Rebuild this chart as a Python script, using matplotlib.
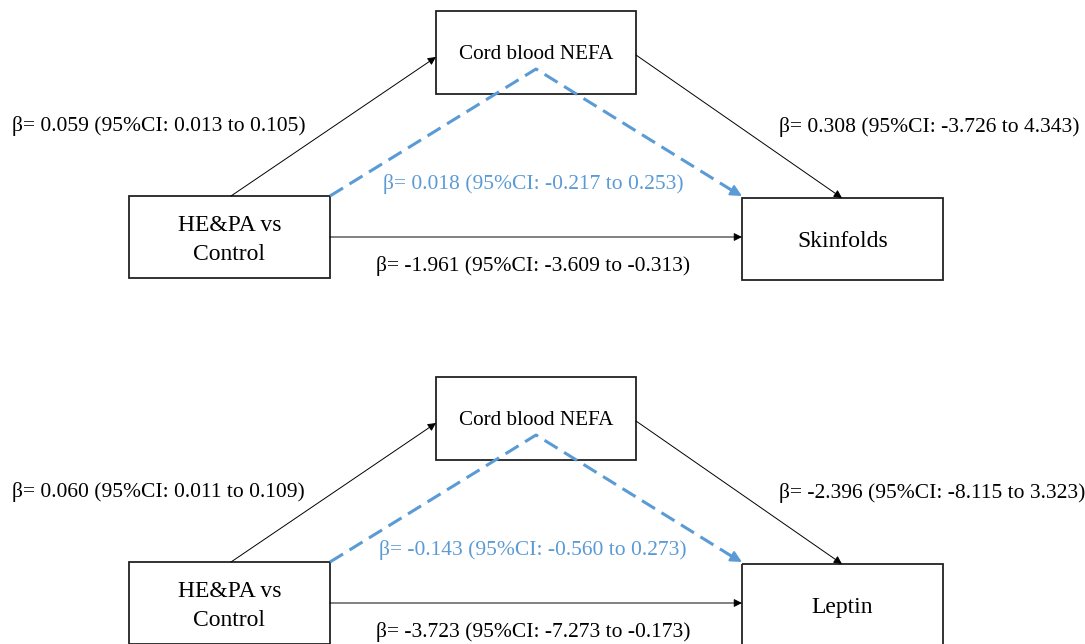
import matplotlib.pyplot as plt
from matplotlib.patches import Rectangle, FancyArrowPatch

plt.rcParams['font.family'] = ['Liberation Serif', 'DejaVu Serif']

# data: one mediation model per panel
exposure = "HE&PA vs\nControl"
mediator = "Cord blood NEFA"
outcomes = ["Skinfolds", "Leptin"]
a_path = ["β= 0.059 (95%CI: 0.013 to 0.105)", "β= 0.060 (95%CI: 0.011 to 0.109)"]
b_path = ["β= 0.308 (95%CI: -3.726 to 4.343)", "β= -2.396 (95%CI: -8.115 to 3.323)"]
indirect = ["β= 0.018 (95%CI: -0.217 to 0.253)", "β= -0.143 (95%CI: -0.560 to 0.273)"]
direct = ["β= -1.961 (95%CI: -3.609 to -0.313)", "β= -3.723 (95%CI: -7.273 to -0.173)"]

blue = '#5B9BD5'
panel_offset = [0, 366]
fs_lab = 15.5

fig = plt.figure(figsize=(10.85, 6.44), dpi=100)
ax = fig.add_axes([0, 0, 1, 1])
ax.set_xlim(0, 1085)
ax.set_ylim(644, 0)
ax.axis('off')


def box(x0, y0, x1, y1, label, fs, ls=1.3, dy_txt=0):
    ax.add_patch(Rectangle((x0, y0), x1 - x0, y1 - y0, fill=False,
                           edgecolor='#222222', lw=1.3))
    ax.text((x0 + x1) / 2, (y0 + y1) / 2 + dy_txt, label, ha='center', va='center',
            fontsize=fs, linespacing=ls)


def arrow(p0, p1, color='black', lw=0.7, scale=12):
    ax.add_patch(FancyArrowPatch(p0, p1, arrowstyle='-|>', mutation_scale=scale,
                                 color=color, lw=lw, shrinkA=0, shrinkB=0))


for k, dy in enumerate(panel_offset):
    # boxes
    box(436, 11 + dy, 636, 94 + dy, mediator, 15.2, dy_txt=2)
    box(129, 196 + dy, 330, 278 + dy, exposure, 17, ls=1.45, dy_txt=3)
    box(742, 198 + dy, 943, 280 + dy, outcomes[k], 17, dy_txt=2)

    # paths
    arrow((231, 196 + dy), (436, 57 + dy))
    arrow((636, 55 + dy), (842, 198 + dy))
    arrow((330, 237 + dy), (742, 237 + dy))

    # indirect path (dashed blue)
    ax.plot([330, 536, 733], [196 + dy, 69 + dy, 191 + dy], color=blue, lw=2.2,
            dashes=(5, 2.5), solid_capstyle='butt', dash_capstyle='butt')
    arrow((726, 187 + dy), (742, 196 + dy), color=blue, lw=1.5, scale=17)

    # labels
    ax.text(12, 126 + dy, a_path[k], ha='left', va='center', fontsize=fs_lab)
    ax.text(779, 127 + dy, b_path[k], ha='left', va='center', fontsize=fs_lab)
    ax.text(533, 184 + dy, indirect[k], ha='center', va='center', fontsize=fs_lab,
            color=blue)
    ax.text(533, 266 + dy, direct[k], ha='center', va='center', fontsize=fs_lab)

fig.savefig('out.png', dpi=100)
